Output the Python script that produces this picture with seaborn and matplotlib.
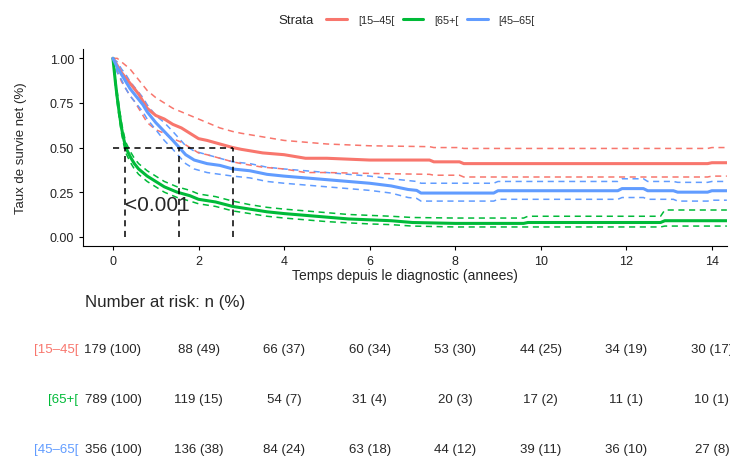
import pandas as pd
import seaborn as sns
import matplotlib.pyplot as plt
import matplotlib.transforms as mtransforms

# Survival curves
strata = ['[15\u201345[', '[65+[', '[45\u201365[']
colors = ['#F8766D', '#00BA38', '#619CFF']

t_15_45 = [0, 0.1, 0.2, 0.3, 0.4, 0.5, 0.6, 0.7, 0.8, 0.9, 1.0, 1.2, 1.4, 1.6, 1.8, 2.0,
           2.2, 2.5, 2.8, 3.0, 3.5, 4.0, 4.5, 5.0, 6.0, 7.4, 7.5, 8.1, 8.2, 13.9, 14.0, 14.35]
s_15_45 = [1.0, 0.96, 0.92, 0.89, 0.86, 0.83, 0.80, 0.76, 0.72, 0.70, 0.68, 0.66, 0.63, 0.61, 0.58, 0.55,
           0.54, 0.52, 0.50, 0.49, 0.47, 0.46, 0.44, 0.44, 0.43, 0.43, 0.42, 0.42, 0.41, 0.41, 0.415, 0.415]
up_15_45 = [1.0, 1.0, 0.98, 0.96, 0.94, 0.91, 0.88, 0.85, 0.82, 0.80, 0.78, 0.75, 0.72, 0.70, 0.68, 0.66,
            0.64, 0.61, 0.59, 0.58, 0.56, 0.54, 0.53, 0.52, 0.51, 0.505, 0.50, 0.50, 0.495, 0.495, 0.50, 0.50]
lo_15_45 = [1.0, 0.93, 0.87, 0.83, 0.79, 0.76, 0.72, 0.68, 0.64, 0.62, 0.60, 0.58, 0.55, 0.53, 0.50, 0.47,
            0.46, 0.44, 0.42, 0.41, 0.39, 0.38, 0.36, 0.36, 0.355, 0.35, 0.345, 0.345, 0.335, 0.335, 0.34, 0.34]

t_65 = [0, 0.03, 0.06, 0.1, 0.15, 0.2, 0.25, 0.3, 0.4, 0.5, 0.6, 0.8, 1.0, 1.2, 1.5, 1.8,
        2.0, 2.4, 2.8, 3.2, 3.6, 4.0, 4.5, 5.0, 5.5, 6.0, 6.5, 7.0, 8.0, 9.6, 9.7, 12.8, 12.9, 14.35]
s_65 = [1.0, 0.93, 0.86, 0.78, 0.69, 0.61, 0.55, 0.50, 0.45, 0.41, 0.38, 0.34, 0.31, 0.28, 0.25, 0.23,
        0.21, 0.195, 0.17, 0.155, 0.14, 0.13, 0.12, 0.11, 0.10, 0.095, 0.09, 0.08, 0.075, 0.075, 0.08, 0.08, 0.09, 0.09]
up_65 = [1.0, 0.95, 0.88, 0.81, 0.72, 0.64, 0.58, 0.53, 0.48, 0.44, 0.41, 0.37, 0.34, 0.31, 0.28, 0.26,
         0.24, 0.225, 0.20, 0.18, 0.165, 0.155, 0.145, 0.135, 0.125, 0.12, 0.115, 0.108, 0.105, 0.105, 0.115, 0.115, 0.15, 0.15]
lo_65 = [1.0, 0.91, 0.84, 0.75, 0.66, 0.58, 0.52, 0.47, 0.42, 0.38, 0.35, 0.31, 0.28, 0.25, 0.22, 0.20,
         0.185, 0.17, 0.145, 0.13, 0.115, 0.105, 0.095, 0.085, 0.078, 0.072, 0.068, 0.06, 0.055, 0.055, 0.055, 0.055, 0.06, 0.06]

t_45_65 = [0, 0.1, 0.2, 0.3, 0.4, 0.5, 0.6, 0.7, 0.8, 0.9, 1.0, 1.2, 1.4, 1.55, 1.7, 1.9, 2.2,
           2.5, 2.8, 3.2, 3.6, 4.0, 4.5, 5.0, 5.5, 6.0, 6.5, 6.9, 7.1, 7.2, 8.9, 9.0, 11.8, 11.9,
           12.4, 12.5, 13.1, 13.2, 13.9, 14.0, 14.35]
s_45_65 = [1.0, 0.95, 0.91, 0.87, 0.83, 0.80, 0.77, 0.74, 0.70, 0.67, 0.64, 0.59, 0.54, 0.50, 0.46, 0.43, 0.41,
           0.40, 0.38, 0.37, 0.35, 0.34, 0.33, 0.32, 0.31, 0.30, 0.285, 0.265, 0.26, 0.245, 0.245, 0.258, 0.258, 0.27,
           0.27, 0.258, 0.258, 0.25, 0.25, 0.258, 0.258]
up_45_65 = [1.0, 0.98, 0.94, 0.91, 0.87, 0.84, 0.81, 0.78, 0.74, 0.71, 0.68, 0.64, 0.59, 0.55, 0.51, 0.48, 0.46,
            0.44, 0.42, 0.41, 0.39, 0.38, 0.37, 0.36, 0.35, 0.34, 0.325, 0.315, 0.31, 0.30, 0.30, 0.31, 0.31, 0.325,
            0.325, 0.31, 0.31, 0.305, 0.305, 0.31, 0.31]
lo_45_65 = [1.0, 0.92, 0.88, 0.83, 0.79, 0.76, 0.73, 0.70, 0.66, 0.63, 0.60, 0.54, 0.49, 0.45, 0.41, 0.38, 0.36,
            0.35, 0.34, 0.33, 0.31, 0.30, 0.29, 0.28, 0.27, 0.26, 0.245, 0.22, 0.215, 0.20, 0.20, 0.21, 0.21, 0.22,
            0.22, 0.21, 0.21, 0.20, 0.20, 0.205, 0.205]

medians = [0.29, 2.8, 1.55]
pval_text = '<0.001'

# Number at risk table
risk_times = [0, 2, 4, 6, 8, 10, 12, 14]
n_15_45 = [179, 88, 66, 60, 53, 44, 34, 30]
pct_15_45 = [100, 49, 37, 34, 30, 25, 19, 17]
n_65 = [789, 119, 54, 31, 20, 17, 11, 10]
pct_65 = [100, 15, 7, 4, 3, 2, 1, 1]
n_45_65 = [356, 136, 84, 63, 44, 39, 36, 27]
pct_45_65 = [100, 38, 24, 18, 12, 11, 10, 8]

frames = []
for name, t, s, up, lo in [(strata[0], t_15_45, s_15_45, up_15_45, lo_15_45),
                           (strata[1], t_65, s_65, up_65, lo_65),
                           (strata[2], t_45_65, s_45_65, up_45_65, lo_45_65)]:
    frames.append(pd.DataFrame({'time': t, 'surv': s, 'upper': up, 'lower': lo, 'Strata': name}))
df = pd.concat(frames, ignore_index=True)

sns.set_style('ticks')
plt.rcParams['font.family'] = ['Liberation Sans', 'DejaVu Sans']

fig = plt.figure(figsize=(7.3, 4.6), dpi=100)
ax = fig.add_axes([0.1137, 0.4637, 0.882, 0.4267])
pal = dict(zip(strata, colors))

for col in ['upper', 'lower']:
    sns.lineplot(data=df, x='time', y=col, hue='Strata', palette=pal, estimator=None, sort=False,
                 linestyle=(0, (4, 3)), linewidth=1.1, legend=False, ax=ax)
sns.lineplot(data=df, x='time', y='surv', hue='Strata', palette=pal, estimator=None, sort=False,
             linewidth=2.2, ax=ax)

# median survival lines
ax.plot([0, max(medians)], [0.5, 0.5], color='black', linestyle=(0, (4, 3)), linewidth=1.1)
for m in medians:
    ax.plot([m, m], [0, 0.5], color='black', linestyle=(0, (4, 3)), linewidth=1.1)
ax.text(0.28, 0.18, pval_text, fontsize=15, ha='left', va='center')

ax.set_xlim(-0.7, 14.35)
ax.set_ylim(-0.05, 1.05)
ax.set_xticks(risk_times)
ax.set_yticks([0, 0.25, 0.5, 0.75, 1.0])
ax.set_yticklabels(['0.00', '0.25', '0.50', '0.75', '1.00'])
ax.tick_params(labelsize=9, length=3, colors='black', labelcolor='#222222')
ax.set_xlabel('Temps depuis le diagnostic (annees)', fontsize=10, labelpad=1)
ax.set_ylabel('Taux de survie net (%)', fontsize=9.5)
ax.yaxis.set_label_coords(-0.087, 0.5)
sns.despine(ax=ax)
for sp in ['left', 'bottom']:
    ax.spines[sp].set_color('black')

sns.move_legend(ax, loc='center', bbox_to_anchor=(0.59, 0.955), bbox_transform=fig.transFigure,
                ncol=3, title=None, frameon=False, fontsize=7.8, handlelength=1.9,
                handletextpad=1.0, columnspacing=0.8)
fig.text(0.382, 0.955, 'Strata', fontsize=9.5, ha='left', va='center')

# risk table (last column runs past the right edge, as in the original)
trans = mtransforms.blended_transform_factory(ax.transData, fig.transFigure)
fig.text(0.116, 0.343, 'Number at risk: n (%)', fontsize=12.2, ha='left', va='center')
rows = [(n_15_45, pct_15_45), (n_65, pct_65), (n_45_65, pct_45_65)]
row_y = [0.239, 0.130, 0.022]
for (ns, ps), y, name, c in zip(rows, row_y, strata, colors):
    fig.text(0.107, y, name, color=c, fontsize=9.5, ha='right', va='center')
    for x, n, p in zip(risk_times, ns, ps):
        fig.text(x, y, f'{n} ({p})', transform=trans, fontsize=9.5, ha='center', va='center')

fig.savefig('out.png', dpi=100)
